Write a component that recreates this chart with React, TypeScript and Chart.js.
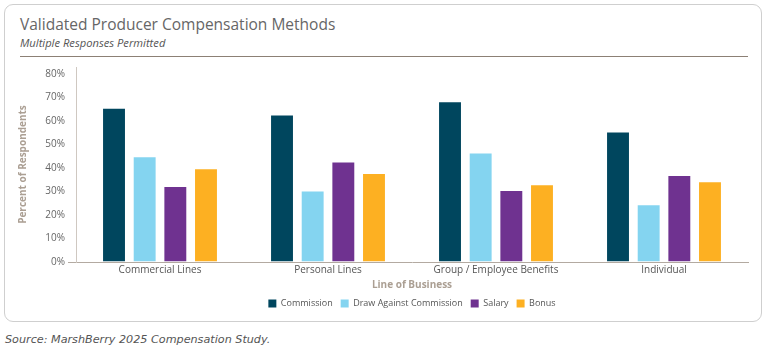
import React, { useEffect, useRef } from "react";
import { Chart, registerables } from "chart.js";

Chart.register(...registerables);

const categories = ["Commercial Lines", "Personal Lines", "Group / Employee Benefits", "Individual"];
const seriesNames = ["Commission", "Draw Against Commission", "Salary", "Bonus"];
const commission = [65.7, 62.8, 68.4, 55.5];
const drawAgainstCommission = [45.0, 30.4, 46.6, 24.6];
const salary = [32.4, 42.8, 30.6, 37.0];
const bonus = [39.9, 37.9, 33.1, 34.4];
const yTicks = [0, 10, 20, 30, 40, 50, 60, 70, 80];
const colors = ["#00465e", "#84d4f0", "#6f3290", "#fdb022"];

const FONT = "'Open Sans', 'Noto Sans', sans-serif";

export default function App() {
  const canvasRef = useRef<HTMLCanvasElement | null>(null);

  useEffect(() => {
    const canvas = canvasRef.current;
    if (!canvas) return;
    const values = [commission, drawAgainstCommission, salary, bonus];
    const chart = new Chart(canvas, {
      type: "bar",
      data: {
        labels: categories,
        datasets: seriesNames.map((name, i) => ({
          label: name,
          data: values[i],
          backgroundColor: colors[i],
          borderColor: "rgba(255,255,255,0.45)",
          borderWidth: 1,
          categoryPercentage: 0.73,
          barPercentage: 0.78,
        })),
      },
      options: {
        animation: false,
        responsive: false,
        maintainAspectRatio: false,
        layout: { padding: { left: 13, right: 20, top: 2, bottom: 0 } },
        plugins: {
          tooltip: { enabled: false },
          legend: {
            position: "bottom",
            fullSize: false,
            labels: {
              boxWidth: 8,
              boxHeight: 8,
              padding: 8,
              color: "#555555",
              font: { family: FONT, size: 9 },
              generateLabels: (c: any) =>
                Chart.defaults.plugins.legend.labels.generateLabels(c).map((l: any) => ({
                  ...l,
                  lineWidth: 0,
                  strokeStyle: "rgba(0,0,0,0)",
                })),
            },
          },
        },
        scales: {
          x: {
            grid: { display: false, drawTicks: false },
            border: { display: true, color: "#b3aaa1", width: 1 },
            ticks: { color: "#555555", font: { family: FONT, size: 10 }, padding: 2, maxRotation: 0 },
            title: {
              display: true,
              text: "Line of Business",
              color: "#ab9f93",
              font: { family: FONT, size: 10, weight: "bold" },
              padding: { top: 1, bottom: 0 },
            },
          },
          y: {
            min: 0,
            max: 83,
            afterBuildTicks: (scale: any) => {
              scale.ticks = yTicks.map((v) => ({ value: v }));
            },
            afterFit: (scale: any) => {
              scale.width = 63;
            },
            grid: {
              display: true,
              drawOnChartArea: false,
              drawTicks: true,
              tickLength: 8,
              tickColor: (ctx: any) => (ctx.tick && ctx.tick.value === 0 ? "#b3aaa1" : "rgba(0,0,0,0)"),
            },
            border: { display: true, color: "#cfc8c1", width: 1 },
            ticks: {
              autoSkip: false,
              padding: 3,
              color: "#666666",
              font: { family: FONT, size: 10 },
              callback: (v: any) => v + "%",
            },
            title: {
              display: true,
              text: "Percent of Respondents",
              color: "#ab9f93",
              font: { family: FONT, size: 10, weight: "bold" },
              padding: { top: 4, bottom: 4 },
            },
          },
        },
      },
    });
    return () => chart.destroy();
  }, []);

  return (
    <div style={{ position: "absolute", left: 0, top: 0, width: 768, height: 352, background: "#ffffff", fontFamily: FONT }}>
      <div
        style={{
          position: "absolute",
          left: 4,
          top: 4,
          width: 756,
          height: 316,
          border: "1px solid #cfcfcf",
          borderRadius: 9,
          boxSizing: "content-box",
        }}
      />
      <div style={{ position: "absolute", left: 20, top: 14, fontSize: 15.5, color: "#666666", whiteSpace: "nowrap", lineHeight: "20px" }}>
        Validated Producer Compensation Methods
      </div>
      <div style={{ position: "absolute", left: 20, top: 36, fontSize: 11.2, fontStyle: "italic", color: "#555555", whiteSpace: "nowrap", lineHeight: "14px" }}>
        Multiple Responses Permitted
      </div>
      <div style={{ position: "absolute", left: 20, top: 56, width: 728, height: 1, background: "#8c8075" }} />
      <canvas ref={canvasRef} width={768} height={260} style={{ position: "absolute", left: 0, top: 58, width: 768, height: 260 }} />
      <div
        style={{
          position: "absolute",
          left: 5,
          top: 332,
          fontSize: 11.2,
          fontStyle: "italic",
          color: "#555555",
          fontFamily: "'DejaVu Sans', sans-serif",
          whiteSpace: "nowrap",
          lineHeight: "16px",
        }}
      >
        Source: MarshBerry 2025 Compensation Study.
      </div>
    </div>
  );
}
